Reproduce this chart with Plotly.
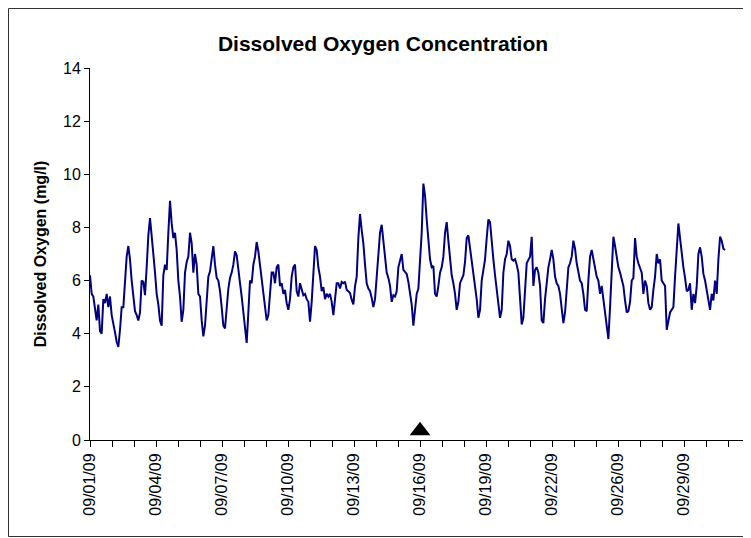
import plotly.graph_objects as go
import numpy as np

chart_title = "Dissolved Oxygen Concentration"
y_axis_title = "Dissolved Oxygen (mg/l)"

# readings per tick interval (category spacing)
readings_per_day = 13.2

do_part1 = [6.2, 5.5, 5.4, 5.0, 4.5, 5.1, 4.1, 4.0, 5.3, 5.15, 5.5, 5.0, 5.4, 4.7, 4.3, 4.05,
            3.7, 3.5, 4.15, 5.0, 5.0, 6.15, 6.9, 7.3, 6.8, 6.0, 5.5, 4.85, 4.7, 4.5, 4.8, 6.0,
            5.95, 5.45, 6.5, 7.7, 8.35, 7.5, 7.0, 6.3, 5.5, 5.1, 4.5, 4.3, 6.2, 6.6, 6.4, 7.8,
            9.0, 8.15, 7.6, 7.8, 7.15, 6.0, 5.4, 4.45, 4.9, 6.3, 6.7, 6.9, 7.8, 7.4, 6.3, 7.0,
            6.6, 5.5, 5.4]
do_part2 = [4.5, 3.9, 4.3, 5.3, 6.15, 6.35, 6.8, 7.3, 6.6, 6.1, 6.0, 5.6, 5.0, 4.3, 4.2, 5.0,
            5.7, 6.1, 6.3, 6.6, 7.1, 6.95, 6.3, 5.9, 5.4, 4.8, 4.1, 3.65, 4.8, 6.0, 5.9, 6.6,
            6.9, 7.45, 7.1, 6.6, 6.0, 5.5, 4.9, 4.5, 4.7, 5.6, 6.3, 6.3, 5.9, 6.5, 6.6, 5.8,
            5.9, 5.5, 5.65, 5.15, 4.9, 5.3, 6.15, 6.5, 6.6, 5.6, 5.4, 5.9, 5.7, 5.45, 5.5, 5.3,
            5.2]
do_part3 = [4.45, 5.2, 6.4, 7.3, 7.15, 6.5, 6.15, 5.6, 5.75, 5.3, 5.5, 5.4, 5.5, 5.2, 4.7, 5.3,
            5.9, 5.9, 5.7, 5.95, 5.9, 5.96, 5.65, 5.6, 5.53, 5.28, 5.1, 5.78, 6.15, 7.6, 8.5, 7.9,
            7.4, 6.6, 5.9, 5.7, 5.6, 5.35, 5.0, 5.3, 6.2, 6.7, 7.8, 8.1, 7.5, 6.7, 6.3, 6.1,
            5.8, 5.2, 5.45, 5.4, 5.6, 6.5, 6.8, 7.0, 6.4, 6.3, 6.25, 5.95, 5.6, 5.1, 4.3, 4.9,
            5.5]
do_part4 = [5.7, 6.8, 7.8, 9.65, 9.2, 8.3, 7.4, 6.8, 6.5, 6.55, 5.5, 5.4, 5.8, 6.3, 6.5, 6.9,
            7.8, 8.2, 7.5, 6.8, 6.2, 5.9, 5.5, 4.9, 5.2, 5.9, 6.05, 6.2, 6.7, 7.6, 7.7, 7.2,
            6.7, 6.3, 5.9, 5.3, 4.6, 4.9, 6.0, 6.4, 6.8, 7.6, 8.3, 8.2, 7.4, 6.8, 6.2, 5.7,
            5.1, 4.6, 4.9, 6.3, 6.8, 7.0, 7.5, 7.3, 6.8, 6.75, 6.8, 6.6, 6.3, 5.3, 4.35, 4.6,
            5.8]
do_part5 = [6.65, 6.78, 6.9, 7.65, 5.8, 6.4, 6.5, 6.3, 5.8, 4.5, 4.4, 5.3, 5.9, 6.5, 6.8, 7.15,
            6.8, 6.15, 5.9, 5.8, 5.5, 5.0, 4.4, 4.8, 5.65, 6.5, 6.65, 6.9, 7.5, 7.2, 6.65, 6.25,
            6.0, 5.9, 5.5, 4.9, 4.85, 6.0, 6.9, 7.15, 6.8, 6.4, 6.15, 6.0, 5.5, 5.8, 5.25, 4.8,
            4.4, 3.8, 5.0, 6.65, 7.65, 7.3, 6.8, 6.5, 6.3, 6.0, 5.8, 5.25, 4.8, 4.85, 5.2, 6.0,
            6.1]
do_part6 = [7.6, 6.9, 6.65, 6.5, 6.3, 5.5, 6.0, 5.8, 5.15, 4.9, 5.0, 5.65, 6.15, 7.0, 6.65, 6.8,
            6.0, 5.9, 5.8, 4.15, 4.5, 4.8, 4.9, 5.0, 6.15, 7.0, 8.15, 7.6, 6.9, 6.5, 6.1, 5.6,
            5.65, 5.9, 4.9, 5.5, 5.15, 5.8, 7.0, 7.25, 6.9, 6.25, 6.0, 5.65, 5.25, 4.9, 5.5, 5.25,
            6.0, 5.5, 6.8, 7.65, 7.5, 7.2, 7.15]

do_values = do_part1 + do_part2 + do_part3 + do_part4 + do_part5 + do_part6

tick_labels = ["09/01/09", "09/04/09", "09/07/09", "09/10/09", "09/13/09",
               "09/16/09", "09/19/09", "09/22/09", "09/26/09", "09/29/09"]
tick_days = [0, 3, 6, 9, 12, 15, 18, 21, 24, 27]
minor_days = list(range(0, 30))
axis_end_day = 29.77

event_day = [15]
event_value = [0.35]

x_days = np.arange(len(do_values)) / readings_per_day

FONT = "Liberation Sans, Arial, sans-serif"

W, H = 743, 530
ML, MT, PW, PH = 82, 60, 655, 372

fig = go.Figure()
fig.add_trace(go.Scatter(x=x_days, y=do_values, mode="lines",
                         line=dict(color="#000080", width=2), showlegend=False,
                         hoverinfo="skip"))
fig.add_trace(go.Scatter(x=event_day, y=event_value, mode="markers",
                         marker=dict(symbol="triangle-up", size=18, color="black"),
                         showlegend=False, cliponaxis=False))

fig.update_layout(
    width=W, height=H,
    margin=dict(l=ML, r=W - ML - PW, t=MT, b=H - MT - PH, autoexpand=False),
    paper_bgcolor="white", plot_bgcolor="white",
    font=dict(family=FONT, size=16, color="black"),
    title=dict(text="<b>" + chart_title + "</b>", x=375 / W, xref="container",
               xanchor="center", y=1 - 36 / H, yref="container", yanchor="middle",
               font=dict(size=21, family=FONT, color="black")),
    xaxis=dict(range=[0, axis_end_day], tickmode="array", tickvals=tick_days,
               ticktext=tick_labels, tickangle=-90, ticks="outside", ticklen=6,
               tickcolor="black", showline=True, linecolor="black", linewidth=1,
               showgrid=False, zeroline=False, tickfont=dict(size=16),
               minor=dict(tickmode="array", tickvals=minor_days, ticks="outside",
                          ticklen=6, tickcolor="black", showgrid=False)),
    yaxis=dict(range=[0, 14], tickmode="linear", tick0=0, dtick=2, ticks="outside",
               ticklen=5, tickcolor="black", showline=True, linecolor="black",
               linewidth=1, showgrid=False, zeroline=False, tickfont=dict(size=16),
               title=dict(text="<b>" + y_axis_title + "</b>", standoff=12,
                          font=dict(size=16))),
    shapes=[dict(type="rect", xref="paper", yref="paper",
                 x0=(0.5 - ML) / PW, x1=(740.5 - ML) / PW,
                 y0=(MT + PH - 528.5) / PH, y1=(MT + PH - 0.5) / PH,
                 line=dict(color="#333333", width=1), fillcolor="rgba(0,0,0,0)")],
)

fig.write_html("out.html")
